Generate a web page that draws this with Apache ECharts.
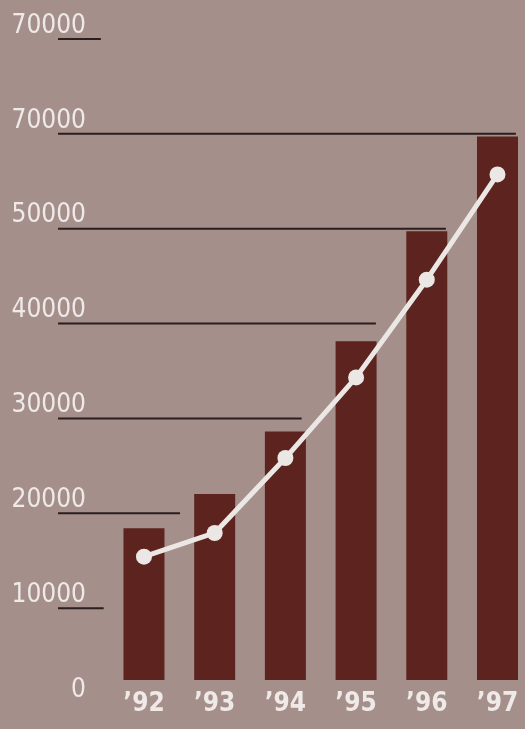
<!DOCTYPE html>
<html>
<head>
<meta charset="utf-8">
<script src="https://cdn.jsdelivr.net/npm/echarts@6/dist/echarts.min.js"></script>
<style>
  html, body { margin: 0; padding: 0; background: #a58f8b; }
  #chart { width: 525px; height: 729px; }
</style>
</head>
<body>
<div id="chart"></div>
<script>
// data
const years = ['\u201992', '\u201993', '\u201994', '\u201995', '\u201996', '\u201997'];
const barValues = [16000, 19600, 26200, 35700, 47300, 57300];
const lineValues = [13000, 15500, 23400, 31900, 42200, 53300];
const tickLabels = ['0', '10000', '20000', '30000', '40000', '50000', '70000', '70000'];
// horizontal guide rules: level on the labelled axis, and where each one stops (in bar slots)
const guideLevels = [70000, 60000, 50000, 40000, 30000, 20000, 10000];
const guideEnds = [-0.61, 5.26, 4.27, 3.28, 2.23, 0.51, -0.57];

const X_MIN = -1.216, X_MAX = 5.29;
const FONT = '"DejaVu Sans Condensed", "Roboto", sans-serif';

const chart = echarts.init(document.getElementById('chart'));

const guideSeries = guideLevels.map((lvl, i) => ({
    type: 'line',
    yAxisIndex: 0,
    data: [[X_MIN, lvl], [guideEnds[i], lvl]],
    showSymbol: false,
    lineStyle: { color: '#2a1e1e', width: 2 },
    silent: true,
    z: 1
}));

chart.setOption({
    animation: false,
    backgroundColor: '#a58f8b',
    grid: { left: 58, right: 7, top: 39, bottom: 26 },
    xAxis: {
        type: 'value',
        min: X_MIN,
        max: X_MAX,
        axisLine: { show: false },
        axisTick: { show: false },
        splitLine: { show: false },
        axisLabel: {
            customValues: years.map((_, i) => i),
            formatter: v => years[Math.round(v)] || '',
            color: '#efeae8',
            fontFamily: FONT,
            fontWeight: 'bold',
            fontSize: 26,
            margin: -12,
            verticalAlign: 'top'
        }
    },
    yAxis: [
        {
            type: 'value',
            min: 0,
            max: 70000,
            interval: 10000,
            axisLine: { show: false },
            axisTick: { show: false },
            splitLine: { show: false },
            axisLabel: {
                formatter: v => tickLabels[Math.round(v / 10000)],
                color: '#efeae8',
                fontFamily: FONT,
                fontSize: 26,
                align: 'right',
                verticalAlign: 'bottom',
                margin: -28
            }
        },
        {
            // bars sit a little above the zero rule in the original
            type: 'value',
            min: -2425,
            max: 67575,
            show: false
        }
    ],
    series: [
        ...guideSeries,
        {
            type: 'bar',
            yAxisIndex: 1,
            data: barValues.map((v, i) => [i, v]),
            barWidth: 41,
            itemStyle: { color: '#5c231f' },
            z: 2
        },
        {
            type: 'line',
            yAxisIndex: 1,
            data: lineValues.map((v, i) => [i, v]),
            symbol: 'circle',
            symbolSize: 16,
            lineStyle: { color: '#ebe7e4', width: 5 },
            itemStyle: { color: '#ebe7e4' },
            z: 3
        }
    ]
});
</script>
</body>
</html>
